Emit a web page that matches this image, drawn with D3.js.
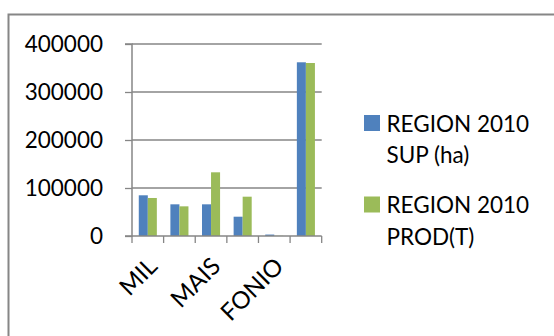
<!DOCTYPE html>
<html>
<head>
<meta charset="utf-8">
<script src="https://cdn.jsdelivr.net/npm/d3@7"></script>
<style>
  html, body { margin: 0; padding: 0; background: #fff; }
  svg { display: block; }
  text { font-family: Lato, "Open Sans", sans-serif; fill: #000; }
</style>
</head>
<body>
<svg id="chart" width="554" height="336"></svg>
<script>
// Crop groups (only every other label is printed on the axis)
const categories = ["c1", "c2", "c3", "c4", "c5", "c6"];
const tickLabels = ["MIL", "", "MAIS", "", "FONIO", ""];
const seriesNames = ["REGION 2010 SUP (ha)", "REGION 2010 PROD(T)"];
const legendLines = [["REGION 2010", "SUP (ha)"], ["REGION 2010", "PROD(T)"]];
const supValues = [84800, 66000, 66000, 40200, 3000, 361900];
const prodValues = [79200, 61800, 132700, 81900, 400, 360400];
const yTicks = [0, 100000, 200000, 300000, 400000];
const colors = ["#4f81bd", "#9bbb59"];

const svg = d3.select("#chart");
const axisGrey = "#868686";
const fontSize = "22.5px";

// Outer chart frame
svg.append("path")
  .attr("d", "M8.5,336 V14.5 H554")
  .attr("fill", "none")
  .attr("stroke", axisGrey)
  .attr("stroke-width", 2);

const plot = { left: 132, right: 321.7, top: 44, bottom: 236 };

const x = d3.scaleBand().domain(categories).range([plot.left, plot.right]).paddingInner(0).paddingOuter(0);
const y = d3.scaleLinear().domain([0, 400000]).range([plot.bottom, plot.top]);

// Gridlines
svg.append("g").selectAll("line").data(yTicks.filter(d => d > 0)).join("line")
  .attr("x1", plot.left).attr("x2", plot.right)
  .attr("y1", d => y(d)).attr("y2", d => y(d))
  .attr("stroke", axisGrey).attr("stroke-width", 1.3);

// Bars: two series per group, Excel-like gap width of 150%
const bw = x.bandwidth();
const barW = bw / 3.5;
const series = [supValues, prodValues];
series.forEach((vals, si) => {
  svg.append("g").selectAll("rect").data(vals).join("rect")
    .attr("x", (d, i) => x(categories[i]) + bw * 0.75 / 3.5 + si * barW)
    .attr("y", d => y(d))
    .attr("width", barW)
    .attr("height", d => plot.bottom - y(d))
    .attr("fill", colors[si]);
});

// Y axis
const yAxis = d3.axisLeft(y).tickValues(yTicks).tickSize(7).tickPadding(22).tickFormat(d3.format("d"));
const gy = svg.append("g").attr("transform", `translate(${plot.left},0)`).call(yAxis);
gy.select(".domain").attr("stroke", axisGrey).attr("stroke-width", 1.5).attr("d", `M-7,${plot.top}H0V${plot.bottom}H-7`);
gy.selectAll(".tick line").attr("stroke", axisGrey).attr("stroke-width", 1.3);
gy.selectAll(".tick text").style("font-size", fontSize).attr("font-family", "Lato").attr("fill", "#000");

// X axis with boundary tick marks
const gx = svg.append("g");
gx.append("line").attr("x1", plot.left).attr("x2", plot.right)
  .attr("y1", plot.bottom).attr("y2", plot.bottom)
  .attr("stroke", axisGrey).attr("stroke-width", 1.5);
const bounds = categories.map(c => x(c)).concat([plot.right]);
gx.selectAll("line.tk").data(bounds).join("line").attr("class", "tk")
  .attr("x1", d => d).attr("x2", d => d)
  .attr("y1", plot.bottom).attr("y2", plot.bottom + 7)
  .attr("stroke", axisGrey).attr("stroke-width", 1.3);
gx.selectAll("text").data(categories.map((c, i) => ({ c, t: tickLabels[i] })).filter(d => d.t)).join("text")
  .attr("transform", d => `translate(${x(d.c) + bw / 2 - 1},${plot.bottom + 20}) rotate(-45)`)
  .attr("text-anchor", "end")
  .attr("dy", "0.7em")
  .style("font-size", "24px")
  .text(d => d.t);

// Legend
const legend = svg.append("g");
const legendY = [115, 196.5];
legendLines.forEach((lines, i) => {
  legend.append("rect").attr("x", 364).attr("y", legendY[i]).attr("width", 16).attr("height", 16).attr("fill", colors[i]);
  lines.forEach((ln, j) => {
    legend.append("text").attr("x", 386.5).attr("y", legendY[i] + 16.5 + j * 31.5)
      .style("font-size", fontSize).text(ln);
  });
});
</script>
</body>
</html>
